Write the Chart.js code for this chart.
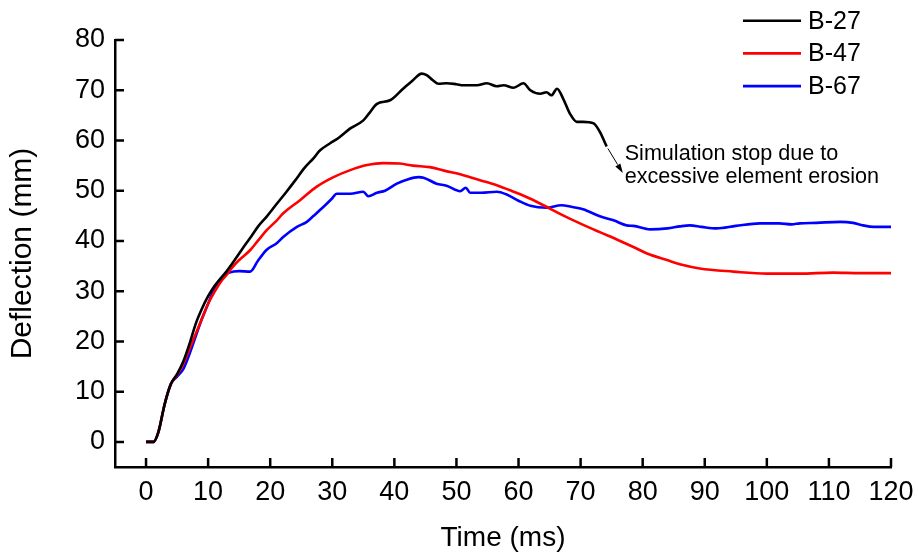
<!DOCTYPE html>
<html>
<head>
<meta charset="utf-8">
<title>Deflection</title>
<script src="https://cdn.jsdelivr.net/npm/chart.js@4.4.1/dist/chart.umd.min.js"></script>
<style>
  body { margin: 0; background: #fff; }
  canvas { display: block; }
</style>
</head>
<body>
<canvas id="chart" width="918" height="557"></canvas>
<script>
// DATA (time in ms, deflection in mm)
const time27 = [0, 1.2, 2, 3, 4, 5, 6, 7, 8, 9, 10, 11, 12, 13, 14, 15, 16, 17, 18, 19.4, 21, 22.5, 24, 25.5, 27, 28, 29.6, 31, 32.9, 35, 36, 37.2, 39.3, 41.4, 43, 44.4, 45.2, 46.2, 47.1, 48.4, 50, 51.1, 53.3, 54.9, 56.5, 57.6, 59.2, 60.8, 61.9, 63.5, 64.5, 65.3, 66.2, 67.2, 68.3, 69.4, 70.4, 72.1, 73.1, 74.2];
const defl27 = [0, 0, 2, 7.5, 11.5, 13.5, 16, 19.5, 23.5, 26.5, 29, 31, 32.5, 34, 35.7, 37.5, 39.3, 41, 42.8, 44.8, 47.3, 49.6, 52, 54.5, 56.5, 58, 59.4, 60.5, 62.4, 64, 65.5, 67.3, 68, 70.3, 72, 73.3, 73, 72, 71.3, 71.4, 71.2, 71, 71, 71.4, 70.8, 71, 70.5, 71.4, 70, 69.3, 69.6, 69, 70.3, 68.3, 65.3, 63.7, 63.7, 63.4, 61.7, 58.8];

const time47 = [0, 1.2, 2, 3, 4, 5, 6, 7, 8, 9, 10, 11, 12, 13, 14, 15, 16.8, 18, 19.4, 21, 22.1, 24.8, 27.5, 30.2, 32.9, 35.6, 38.2, 40.9, 43, 45.7, 48, 51.1, 53.8, 56.5, 59.2, 61.9, 64.5, 67, 69.9, 73, 76, 78.5, 80.7, 83.9, 86.5, 89.2, 94.6, 100, 105.3, 110.7, 115, 120];
const defl47 = [0, 0, 2, 7.5, 11.5, 13.3, 15.5, 18.5, 21.5, 24.5, 27.5, 29.8, 31.8, 33.3, 34.9, 36.2, 38.2, 40, 42.1, 44, 45.5, 48.1, 50.8, 52.7, 54.1, 55.1, 55.5, 55.4, 55, 54.7, 54, 53.1, 52.1, 51.1, 49.8, 48.4, 46.8, 45.2, 43.5, 41.8, 40.2, 38.8, 37.5, 36.2, 35.2, 34.5, 33.9, 33.5, 33.5, 33.7, 33.6, 33.6];

const time67 = [0, 1.2, 2, 3, 4, 5, 6, 7, 8, 9, 10, 11, 12, 13, 14.1, 15, 16.8, 18, 19.4, 21, 22.1, 24.3, 25.9, 27, 28.6, 30, 30.7, 32.9, 35, 35.8, 37.2, 38.5, 40.4, 42, 43.9, 44.7, 46.8, 48.4, 50.6, 51.5, 52.2, 54, 56.5, 58, 60, 61.9, 64.5, 66.9, 68.5, 70.4, 73.1, 75.3, 77.4, 78.5, 81.2, 84, 86, 87.6, 89.5, 91.9, 95, 98.9, 102, 104, 105.3, 108, 111.8, 113.9, 115.5, 117.2, 120];
const defl67 = [0, 0, 2, 7.5, 11.5, 13, 14.5, 17.5, 21, 24.5, 27.5, 30.5, 32.5, 33.5, 33.9, 34, 33.9, 36, 38.2, 39.5, 40.8, 42.8, 43.8, 45, 46.8, 48.5, 49.4, 49.4, 49.8, 48.9, 49.6, 50, 51.4, 52.2, 52.7, 52.6, 51.4, 51, 49.9, 50.6, 49.6, 49.6, 49.8, 49.3, 48, 47, 46.6, 47.1, 46.8, 46.3, 44.9, 44.1, 43.1, 43, 42.3, 42.5, 42.9, 43.1, 42.8, 42.5, 43, 43.5, 43.5, 43.3, 43.5, 43.6, 43.8, 43.6, 43.1, 42.8, 42.8];

const seriesNames = ["B-27", "B-47", "B-67"];
const seriesColors = ["#000000", "#ff0000", "#0000ff"];
const xTickValues = [0, 10, 20, 30, 40, 50, 60, 70, 80, 90, 100, 110, 120];
const yTickValues = [0, 10, 20, 30, 40, 50, 60, 70, 80];

// annotation: arrow from end of B-27 curve, text lines (data coords)
const noteArrow = [[74.4, 58.4], [76.8, 53.5]];
const noteText = ["Simulation stop due to", "excessive element erosion"];
const noteAnchor = [77.1, 56.2];
const noteLineGap = 4.65;

const FONT = "'Liberation Sans', Arial, sans-serif";

const toPoints = (xs, ys) => xs.map((x, i) => ({ x: x, y: ys[i] }));

const makeDataset = (i, xs, ys) => ({
  label: seriesNames[i],
  data: toPoints(xs, ys),
  borderColor: seriesColors[i],
  backgroundColor: seriesColors[i],
  borderWidth: 2.6,
  pointRadius: 0,
  cubicInterpolationMode: "monotone",
  fill: false,
});

// inward tick marks
const innerTicks = {
  id: "innerTicks",
  afterDraw(chart) {
    const ctx = chart.ctx;
    const xs = chart.scales.x;
    const ys = chart.scales.y;
    const len = 9;
    ctx.save();
    ctx.strokeStyle = "#000";
    ctx.lineWidth = 2.5;
    ctx.beginPath();
    xTickValues.forEach((v) => {
      const px = xs.getPixelForValue(v);
      ctx.moveTo(px, xs.top);
      ctx.lineTo(px, xs.top - len);
    });
    yTickValues.forEach((v) => {
      const py = ys.getPixelForValue(v);
      ctx.moveTo(ys.right, py);
      ctx.lineTo(ys.right + len, py);
    });
    ctx.stroke();
    ctx.restore();
  },
};

// legend top right
const lineLegend = {
  id: "lineLegend",
  afterDraw(chart) {
    const ctx = chart.ctx;
    ctx.save();
    ctx.font = "25px " + FONT;
    ctx.textBaseline = "middle";
    ctx.textAlign = "left";
    chart.data.datasets.forEach((ds, i) => {
      const y = 20.7 + i * 32.7;
      ctx.strokeStyle = ds.borderColor;
      ctx.lineWidth = 2.6;
      ctx.beginPath();
      ctx.moveTo(743, y);
      ctx.lineTo(801, y);
      ctx.stroke();
      ctx.fillStyle = "#000";
      ctx.fillText(ds.label, 808, y + 1);
    });
    ctx.restore();
  },
};

// note with arrow
const stopNote = {
  id: "stopNote",
  afterDraw(chart) {
    const ctx = chart.ctx;
    const xs = chart.scales.x;
    const ys = chart.scales.y;
    const x1 = xs.getPixelForValue(noteArrow[0][0]);
    const y1 = ys.getPixelForValue(noteArrow[0][1]);
    const x2 = xs.getPixelForValue(noteArrow[1][0]);
    const y2 = ys.getPixelForValue(noteArrow[1][1]);
    const ang = Math.atan2(y2 - y1, x2 - x1);
    const head = 10;
    ctx.save();
    ctx.strokeStyle = "#000";
    ctx.fillStyle = "#000";
    ctx.lineWidth = 1;
    ctx.beginPath();
    ctx.moveTo(x1, y1);
    ctx.lineTo(x2 - head * Math.cos(ang), y2 - head * Math.sin(ang));
    ctx.stroke();
    ctx.beginPath();
    ctx.moveTo(x2, y2);
    ctx.lineTo(x2 - head * Math.cos(ang - 0.3), y2 - head * Math.sin(ang - 0.3));
    ctx.lineTo(x2 - head * Math.cos(ang + 0.3), y2 - head * Math.sin(ang + 0.3));
    ctx.closePath();
    ctx.fill();

    ctx.font = "21.6px " + FONT;
    ctx.textAlign = "left";
    ctx.textBaseline = "alphabetic";
    noteText.forEach((t, i) => {
      ctx.fillText(
        t,
        xs.getPixelForValue(noteAnchor[0]),
        ys.getPixelForValue(noteAnchor[1] - i * noteLineGap)
      );
    });
    ctx.restore();
  },
};

const ctx = document.getElementById("chart").getContext("2d");

new Chart(ctx, {
  type: "line",
  data: {
    datasets: [
      makeDataset(0, time27, defl27),
      makeDataset(1, time47, defl47),
      makeDataset(2, time67, defl67),
    ],
  },
  options: {
    responsive: false,
    animation: false,
    layout: { padding: { top: 40, right: 27, left: 0, bottom: 0 } },
    plugins: {
      legend: { display: false },
      tooltip: { enabled: false },
    },
    scales: {
      x: {
        type: "linear",
        min: -5,
        max: 120,
        afterBuildTicks: (scale) => {
          scale.ticks = xTickValues.map((v) => ({ value: v }));
        },
        afterFit: (scale) => {
          scale.height = 90;
          scale.paddingLeft = 0;
          scale.paddingRight = 0;
        },
        grid: { display: false, drawTicks: false },
        border: { display: true, color: "#000", width: 2.5 },
        ticks: {
          color: "#000",
          padding: 9,
          maxRotation: 0,
          autoSkip: false,
          font: { family: FONT, size: 27 },
        },
        title: {
          display: true,
          text: "Time (ms)",
          color: "#000",
          font: { family: FONT, size: 28 },
          padding: { top: 0, bottom: 2 },
        },
      },
      y: {
        type: "linear",
        min: -5,
        max: 80,
        afterBuildTicks: (scale) => {
          scale.ticks = yTickValues.map((v) => ({ value: v }));
        },
        afterFit: (scale) => {
          scale.width = 115;
          scale.paddingTop = 0;
          scale.paddingBottom = 0;
        },
        grid: { display: false, drawTicks: false },
        border: { display: true, color: "#000", width: 2.5 },
        ticks: {
          color: "#000",
          padding: 10,
          autoSkip: false,
          font: { family: FONT, size: 27 },
        },
        title: {
          display: true,
          text: "Deflection (mm)",
          color: "#000",
          font: { family: FONT, size: 30 },
          padding: { top: 5, bottom: 0 },
        },
      },
    },
  },
  plugins: [innerTicks, lineLegend, stopNote],
});
</script>
</body>
</html>
